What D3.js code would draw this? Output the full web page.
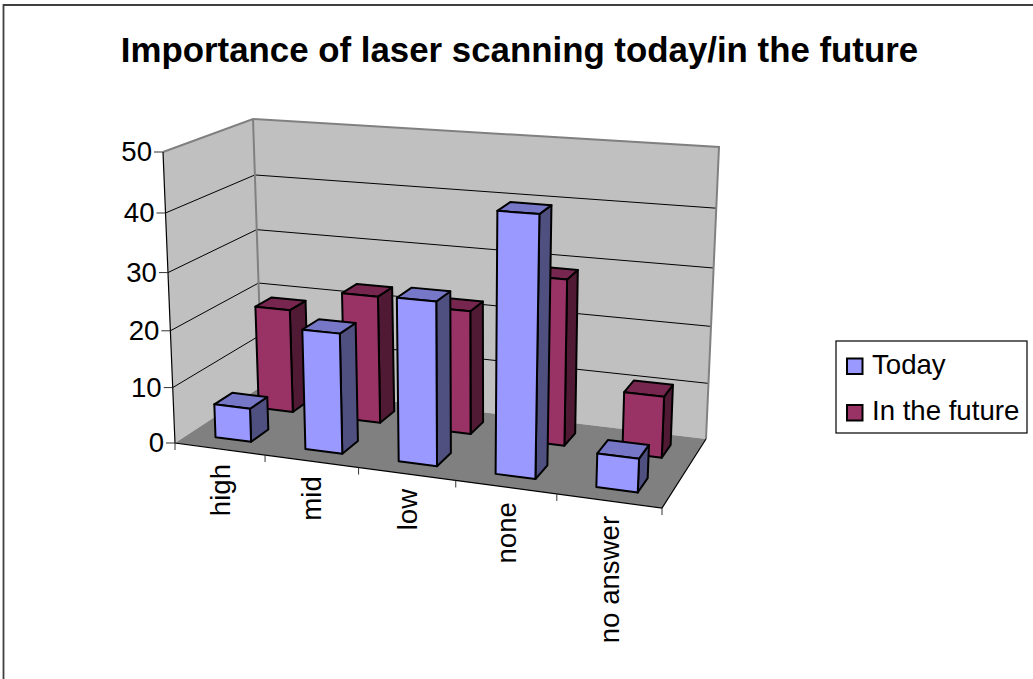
<!DOCTYPE html>
<html><head><meta charset="utf-8">
<script src="https://cdn.jsdelivr.net/npm/d3@7"></script>
<style>html,body{margin:0;padding:0;background:#fff}svg{display:block}text{font-family:"Liberation Sans",Arial,sans-serif;fill:#000}</style>
</head><body><svg id="c" width="1033" height="679"></svg>
<script>
const chartTitle = "Importance of laser scanning today/in the future";
const categories = ["high","mid","low","none","no answer"];
const seriesNames = ["Today","In the future"];
const today = [6,21,28,43.4,5.7];
const future = [19,23,22,29,10.7];
const valueTicks = [0,10,20,30,40,50];

const frontColors = {"Today":"#9999ff","In the future":"#993366"};
const topColors = {"Today":"#7777c8","In the future":"#77274f"};
const sideColors = {"Today":"#4f4f80","In the future":"#511a34"};

const svg = d3.select("#c");
const floorQuad = [[175,443],[662,508],[706,439],[262,386]];
const ceilQuad  = [[163,152],[677,188],[719,147],[253,119]];

function homography(q){
  const [p0,p1,p2,p3]=q;
  const dx1=p1[0]-p2[0],dx2=p3[0]-p2[0],sx=p0[0]-p1[0]+p2[0]-p3[0];
  const dy1=p1[1]-p2[1],dy2=p3[1]-p2[1],sy=p0[1]-p1[1]+p2[1]-p3[1];
  const det=dx1*dy2-dx2*dy1;
  const g=(sx*dy2-dx2*sy)/det,h=(dx1*sy-sx*dy1)/det;
  const a=p1[0]-p0[0]+g*p1[0],b=p3[0]-p0[0]+h*p3[0];
  const d=p1[1]-p0[1]+g*p1[1],e=p3[1]-p0[1]+h*p3[1];
  return (u,v)=>{const k=g*u+h*v+1;return [(a*u+b*v+p0[0])/k,(d*u+e*v+p0[1])/k];};
}
const hFloor=homography(floorQuad),hCeil=homography(ceilQuad);
const yScale=d3.scaleLinear().domain([0,50]).range([0,1]);
const xBand=d3.scaleBand().domain(categories).range([0,1]).paddingInner(0.6).paddingOuter(0.3);
const zBand=d3.scaleBand().domain(seriesNames).range([0,1]).paddingInner(0.6).paddingOuter(0.3);
function P(u,v,val){
  const t=yScale(val),w=t*(1-0.06*(1-t)),a=hFloor(u,v),b=hCeil(u,v);
  return [a[0]+(b[0]-a[0])*w,a[1]+(b[1]-a[1])*w];
}
const poly=d3.line().curve(d3.curveLinearClosed);
const FS=27.6;

// border (left and top only, as in the reference)
svg.append("path").attr("d","M3.5,679V5H1033").attr("fill","none").attr("stroke","#404040").attr("stroke-width",1.8);

// title
svg.append("text").attr("x",519.5).attr("y",62).attr("text-anchor","middle")
  .attr("font-size",34.85).attr("font-weight","bold").text(chartTitle);

// walls and floor
const maxV=50;
svg.append("path").attr("d",poly([P(0,0,0),P(0,1,0),P(0,1,maxV),P(0,0,maxV)])).attr("fill","#c0c0c0");
svg.append("path").attr("d",poly([P(0,1,0),P(1,1,0),P(1,1,maxV),P(0,1,maxV)])).attr("fill","#c0c0c0");
svg.append("path").attr("d",poly([P(0,0,0),P(1,0,0),P(1,1,0),P(0,1,0)])).attr("fill","#808080");

// gridlines
valueTicks.filter(t=>t>0&&t<maxV).forEach(t=>{
  svg.append("path").attr("d",d3.line()([P(0,0,t),P(0,1,t),P(1,1,t)])).attr("fill","none").attr("stroke","#000").attr("stroke-width",1);
});
// wall edges
svg.append("path").attr("d",d3.line()([P(0,0,maxV),P(0,1,maxV),P(1,1,maxV),P(1,1,0)])).attr("fill","none").attr("stroke","#808080").attr("stroke-width",2);
svg.append("path").attr("d",d3.line()([P(0,1,maxV),P(0,1,0)])).attr("fill","none").attr("stroke","#808080").attr("stroke-width",2);

// axes
svg.append("path").attr("d",d3.line()([P(0,0,maxV),P(0,0,0),P(1,0,0),P(1,1,0)])).attr("fill","none").attr("stroke","#000").attr("stroke-width",1.2);
valueTicks.forEach(t=>{
  const p=P(0,0,t);
  svg.append("line").attr("x1",p[0]-9).attr("x2",p[0]).attr("y1",p[1]).attr("y2",p[1]).attr("stroke","#333").attr("stroke-width",1);
  svg.append("text").attr("x",p[0]-11).attr("y",p[1]+9).attr("text-anchor","end").attr("font-size",FS).text(t);
});
d3.range(categories.length+1).forEach(i=>{
  const u=i*xBand.step(),p=P(u,0,0);
  svg.append("line").attr("x1",p[0]).attr("x2",p[0]).attr("y1",p[1]).attr("y2",p[1]+7).attr("stroke","#333").attr("stroke-width",1);
});
categories.forEach((c,i)=>{
  const u=xBand(c)+xBand.bandwidth()/2,p=P(u,0,0);
  svg.append("text").attr("transform",`translate(${p[0]+10},${p[1]+15}) rotate(-90)`)
    .attr("text-anchor","end").attr("font-size",FS).text(c);
});

// bars
const rows=[{name:"In the future",values:future},{name:"Today",values:today}];
rows.forEach(r=>{
  const z0=zBand(r.name),z1=z0+zBand.bandwidth();
  r.values.forEach((val,i)=>{
    const x0=xBand(categories[i]),x1=x0+xBand.bandwidth();
    const g=svg.append("g").attr("stroke","#000").attr("stroke-width",2).attr("stroke-linejoin","round");
    g.append("path").attr("d",poly([P(x1,z0,0),P(x1,z1,0),P(x1,z1,val),P(x1,z0,val)])).attr("fill",sideColors[r.name]);
    g.append("path").attr("d",poly([P(x0,z0,val),P(x1,z0,val),P(x1,z1,val),P(x0,z1,val)])).attr("fill",topColors[r.name]);
    g.append("path").attr("d",poly([P(x0,z0,0),P(x1,z0,0),P(x1,z0,val),P(x0,z0,val)])).attr("fill",frontColors[r.name]);
  });
});

// legend
svg.append("rect").attr("x",836).attr("y",341).attr("width",191).attr("height",92).attr("fill","#fff").attr("stroke","#000").attr("stroke-width",1.2);
seriesNames.forEach((s,i)=>{
  const y=358.5+i*46.5;
  svg.append("rect").attr("x",847).attr("y",y).attr("width",15.5).attr("height",15.5).attr("fill",frontColors[s]).attr("stroke","#000").attr("stroke-width",2);
  svg.append("text").attr("x",872).attr("y",y+15).attr("font-size",FS).text(s);
});
</script></body></html>
